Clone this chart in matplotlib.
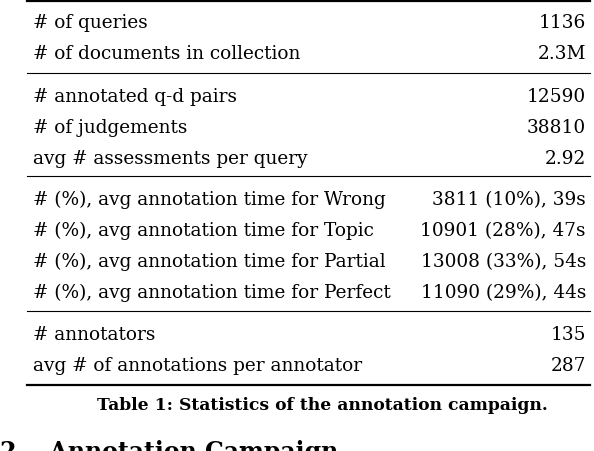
import matplotlib
matplotlib.use("Agg")
from matplotlib import pyplot as plt

# rows of the table, grouped by rule
groups = [
    [("# of queries", "1136"), ("# of documents in collection", "2.3M")],
    [("# annotated q-d pairs", "12590"), ("# of judgements", "38810"),
     ("avg # assessments per query", "2.92")],
    [("# (%), avg annotation time for Wrong", "3811 (10%), 39s"),
     ("# (%), avg annotation time for Topic", "10901 (28%), 47s"),
     ("# (%), avg annotation time for Partial", "13008 (33%), 54s"),
     ("# (%), avg annotation time for Perfect", "11090 (29%), 44s")],
    [("# annotators", "135"), ("avg # of annotations per annotator", "287")],
]
caption = "Table 1: Statistics of the annotation campaign."
heading = "2    Annotation Campaign"

fig = plt.figure(figsize=(5.94, 4.52), dpi=100)
ax = fig.add_axes([0, 0, 1, 1])
ax.set_xlim(0, 594)
ax.set_ylim(452, 0)
ax.axis("off")

font = dict(family="DejaVu Serif", fontsize=13.3, color="black")
x0, x1 = 27, 590
ax.plot([x0, x1], [2, 2], color="black", lw=1.6)
y = 23
rule_y = [74, 177, 312]
for gi, rows in enumerate(groups):
    for label, value in rows:
        ax.text(33, y, label, ha="left", va="center", **font)
        ax.text(586, y, value, ha="right", va="center", **font)
        y += 31
    if gi < len(rule_y):
        ax.plot([x0, x1], [rule_y[gi], rule_y[gi]], color="black", lw=0.8)
        y = rule_y[gi] + 23
ax.plot([x0, x1], [386, 386], color="black", lw=1.6)
ax.text(322, 406, caption, ha="center", va="center", fontweight="bold",
        family="DejaVu Serif", fontsize=12.3)
ax.text(0, 452, heading, ha="left", va="center", fontweight="bold",
        family="DejaVu Serif", fontsize=17)

fig.savefig("out.png", dpi=100)
